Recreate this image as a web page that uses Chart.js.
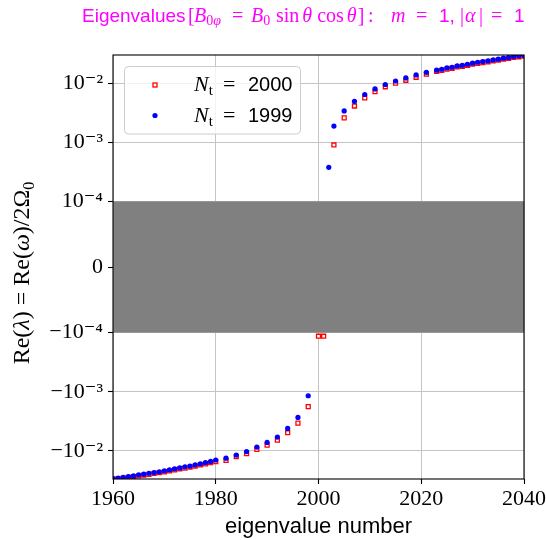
<!DOCTYPE html>
<html><head><meta charset="utf-8">
<script src="https://cdn.jsdelivr.net/npm/chart.js@4.4.0/dist/chart.umd.min.js"></script>
<style>html,body{margin:0;padding:0;background:#fff;}#wrap{width:546px;height:540px;}</style>
</head><body><div id="wrap"><canvas id="c" width="546" height="540"></canvas></div>
<script>
// ---- data ----
const nt2000X = [1960,1961,1962,1963,1964,1965,1966,1967,1968,1969,1970,1971,1972,1973,1974,1975,1976,1977,1978,1979,1980,
  1982,1984,1986,1988,1990,1992,1994,1996,1998,
  2000,2001,
  2003,2005,2007,2009,2011,2013,2015,2017,2019,2021,
  2023,2024,2025,2026,2027,2028,2029,2030,2031,2032,2033,2034,2035,2036,2037,2038,2039,2040];
const nt2000Y = [-3.02e-2,-2.97e-2,-2.90e-2,-2.82e-2,-2.74e-2,-2.66e-2,-2.57e-2,-2.50e-2,-2.42e-2,-2.34e-2,-2.27e-2,-2.18e-2,-2.11e-2,-2.03e-2,-1.96e-2,-1.88e-2,-1.81e-2,-1.73e-2,-1.66e-2,-1.58e-2,-1.52e-2,
  -1.45e-2,-1.26e-2,-1.12e-2,-9.48e-3,-8.00e-3,-6.58e-3,-4.94e-3,-3.39e-3,-1.79e-3,
  -1.15e-4,-1.15e-4,
  9.0e-4,2.58e-3,4.11e-3,5.62e-3,7.21e-3,8.7e-3,1.00e-2,1.12e-2,1.26e-2,1.42e-2,
  1.58e-2,1.65e-2,1.73e-2,1.79e-2,1.88e-2,1.93e-2,2.01e-2,2.10e-2,2.17e-2,2.24e-2,2.30e-2,2.39e-2,2.46e-2,2.55e-2,2.63e-2,2.73e-2,2.80e-2,2.86e-2];
const nt1999X = [1960,1961,1962,1963,1964,1965,1966,1967,1968,1969,1970,1971,1972,1973,1974,1975,1976,1977,1978,1979,1980,
  1982,1984,1986,1988,1990,1992,1994,1996,1998,
  2002,2003,
  2005,2007,2009,2011,2013,2015,2017,2019,2021,
  2023,2024,2025,2026,2027,2028,2029,2030,2031,2032,2033,2034,2035,2036,2037,2038,2039,2040];
const nt1999Y = [-2.95e-2,-2.89e-2,-2.80e-2,-2.73e-2,-2.66e-2,-2.55e-2,-2.49e-2,-2.40e-2,-2.34e-2,-2.26e-2,-2.18e-2,-2.10e-2,-2.02e-2,-1.95e-2,-1.87e-2,-1.81e-2,-1.73e-2,-1.66e-2,-1.58e-2,-1.51e-2,-1.43e-2,
  -1.33e-2,-1.18e-2,-1.03e-2,-8.63e-3,-7.21e-3,-5.85e-3,-4.18e-3,-2.72e-3,-1.17e-3,
  3.76e-4,1.88e-3,
  3.39e-3,4.94e-3,6.43e-3,8.0e-3,9.5e-3,1.09e-2,1.23e-2,1.38e-2,1.53e-2,
  1.66e-2,1.72e-2,1.81e-2,1.86e-2,1.96e-2,2.01e-2,2.09e-2,2.18e-2,2.26e-2,2.33e-2,2.38e-2,2.48e-2,2.55e-2,2.65e-2,2.72e-2,2.83e-2,2.90e-2,2.94e-2];
const xTickValues = [1960,1980,2000,2020,2040];
const yTickValues = [-1e-2,-1e-3,-1e-4,0,1e-4,1e-3,1e-2];
const yTickLabels = ['\u221210\u207B\u00B2','\u221210\u207B\u00B3','\u221210\u207B\u2074','0','10\u207B\u2074','10\u207B\u00B3','10\u207B\u00B2'];
const seriesLabels = ['2000','1999'];
const xLimits = [1960,2040];
const yLimits = [-3e-2,3e-2];
const bandLimits = [-1e-4,1e-4];

// ---- symlog scale ----
const LINTHRESH = 1e-4, LINSCALE = 1/(1-1/10);
function symT(v){const a=Math.abs(v);if(a<=LINTHRESH)return v/LINTHRESH*LINSCALE;return Math.sign(v)*(LINSCALE+Math.log10(a/LINTHRESH));}
function symInv(t){const a=Math.abs(t);if(a<=LINSCALE)return t/LINSCALE*LINTHRESH;return Math.sign(t)*LINTHRESH*Math.pow(10,a-LINSCALE);}
class SymLogScale extends Chart.LinearScale {
  buildTicks(){ return yTickValues.map(v=>({value:v})); }
  configure(){ super.configure(); this._tS=symT(this.min); this._tR=symT(this.max)-this._tS; }
  getPixelForValue(v){ return this.getPixelForDecimal((symT(v)-this._tS)/this._tR); }
  getValueForPixel(p){ return symInv(this._tS+this.getDecimalForPixel(p)*this._tR); }
}
SymLogScale.id='symlog';
SymLogScale.defaults=Chart.LinearScale.defaults;
Chart.register(SymLogScale);

const SERIF='"Liberation Serif", "DejaVu Serif", serif';
const SANS='"Liberation Sans", "DejaVu Sans", sans-serif';
function drawRich(ctx, segs, x, y){
  let cx=x;
  for(const s of segs){
    ctx.font=s.f;
    if(s.x!==undefined) cx=s.x;
    ctx.fillText(s.t,cx,y+(s.dy||0));
    cx+=ctx.measureText(s.t).width+(s.dx||0);
  }
  return cx;
}
function richWidth(ctx,segs){let w=0;for(const s of segs){ctx.font=s.f;w+=ctx.measureText(s.t).width+(s.dx||0);}return w;}

const bandPlugin={id:'band',beforeDatasetsDraw(chart){
  const {ctx,chartArea:a,scales:{y}}=chart;
  const y1=y.getPixelForValue(bandLimits[1]), y0=y.getPixelForValue(bandLimits[0]);
  ctx.save();ctx.fillStyle='#808080';ctx.fillRect(a.left,y1,a.right-a.left,y0-y1);ctx.restore();
}};

const decorPlugin={id:'decor',afterDatasetsDraw(chart){
  const {ctx,chartArea:a}=chart;
  ctx.save();
  // frame
  ctx.strokeStyle='#000';ctx.lineWidth=1.1;
  ctx.strokeRect(a.left,a.top,a.right-a.left,a.bottom-a.top);
  // legend
  const lx=124.5,ly=66.5,lw=176,lh=67.5,r=4;
  ctx.beginPath();
  ctx.moveTo(lx+r,ly);ctx.lineTo(lx+lw-r,ly);ctx.quadraticCurveTo(lx+lw,ly,lx+lw,ly+r);
  ctx.lineTo(lx+lw,ly+lh-r);ctx.quadraticCurveTo(lx+lw,ly+lh,lx+lw-r,ly+lh);
  ctx.lineTo(lx+r,ly+lh);ctx.quadraticCurveTo(lx,ly+lh,lx,ly+lh-r);
  ctx.lineTo(lx,ly+r);ctx.quadraticCurveTo(lx,ly,lx+r,ly);ctx.closePath();
  ctx.fillStyle='rgba(255,255,255,0.8)';ctx.fill();
  ctx.strokeStyle='#cccccc';ctx.lineWidth=1;ctx.stroke();
  // markers
  ctx.fillStyle='#fff';ctx.strokeStyle='#ff0000';ctx.lineWidth=1.3;
  ctx.fillRect(153,83,4,4);ctx.strokeRect(153,83,4,4);
  ctx.fillStyle='#0000ff';ctx.beginPath();ctx.arc(155,115.5,2.6,0,Math.PI*2);ctx.fill();
  ctx.fillStyle='#000';ctx.textBaseline='alphabetic';ctx.textAlign='left';
  const rows=[91,122];
  seriesLabels.forEach((lab,i)=>{
    drawRich(ctx,[
      {t:'N',f:'italic 22px '+SERIF,x:194},
      {t:'t',f:'15px '+SERIF,dy:4},
      {t:'=',f:'22px '+SERIF,x:223},
      {t:lab,f:'20px '+SANS,x:248}
    ],0,rows[i]);
  });
  // title
  ctx.fillStyle='#ff00ff';
  const T=20,S=14;
  drawRich(ctx,[
    {t:'Eigenvalues',f:'19px '+SANS,x:82},
    {t:'[',f:T+'px '+SERIF,x:188},
    {t:'B',f:'italic '+T+'px '+SERIF,x:194},
    {t:'0',f:S+'px '+SERIF,dy:3},
    {t:'\u03C6',f:'italic '+S+'px '+SERIF,dy:3},
    {t:'=',f:T+'px '+SERIF,x:232},
    {t:'B',f:'italic '+T+'px '+SERIF,x:251},
    {t:'0',f:S+'px '+SERIF,dy:3},
    {t:'sin',f:T+'px '+SERIF,x:276,dx:3},
    {t:'\u03B8',f:'italic '+T+'px '+SERIF,dx:5},
    {t:'cos',f:T+'px '+SERIF,dx:3},
    {t:'\u03B8',f:'italic '+T+'px '+SERIF,dx:1},
    {t:']',f:T+'px '+SERIF},
    {t:':',f:T+'px '+SERIF,x:368},
    {t:'m',f:'italic '+T+'px '+SERIF,x:391},
    {t:'=',f:T+'px '+SERIF,x:416},
    {t:'1,',f:'19px '+SANS,x:439},
    {t:'|',f:T+'px '+SERIF,x:460},
    {t:'\u03B1',f:'italic '+T+'px '+SERIF,x:465},
    {t:'|',f:T+'px '+SERIF,x:479},
    {t:'=',f:T+'px '+SERIF,x:491},
    {t:'1',f:'19px '+SANS,x:514}
  ],0,21.5);
  // x label
  ctx.fillStyle='#000';ctx.font='22px '+SANS;ctx.textAlign='center';
  ctx.fillText('eigenvalue number',(a.left+a.right)/2,533);
  // y label
  const F='24px '+SERIF;
  const ysegs=[
    {t:'Re(',f:F},
    {t:'\u03BB',f:'italic '+F},
    {t:')',f:F,dx:6},
    {t:'=',f:F,dx:6},
    {t:'Re(',f:F},
    {t:'\u03C9',f:'italic '+F},
    {t:')/2\u03A9',f:F},
    {t:'0',f:'16px '+SERIF,dy:5}
  ];
  ctx.textAlign='left';
  const w=richWidth(ctx,ysegs);
  ctx.translate(29,273);ctx.rotate(-Math.PI/2);
  drawRich(ctx,ysegs,-w/2,0);
  ctx.restore();
}};

const mk=(X,Y)=>X.map((v,i)=>({x:v,y:Y[i]}));
new Chart(document.getElementById('c'),{
  type:'scatter',
  data:{datasets:[
    {label:'Nt = 2000',data:mk(nt2000X,nt2000Y),pointStyle:'rect',pointRadius:2.8,pointBackgroundColor:'#ffffff',pointBorderColor:'#ff0000',pointBorderWidth:1.3,order:2,clip:0},
    {label:'Nt = 1999',data:mk(nt1999X,nt1999Y),pointStyle:'circle',pointRadius:2.6,pointBackgroundColor:'#0000ff',pointBorderColor:'#0000ff',pointBorderWidth:0,order:1,clip:0}
  ]},
  options:{
    responsive:false,animation:false,
    layout:{padding:{top:55,right:22,left:0,bottom:0}},
    plugins:{legend:{display:false},tooltip:{enabled:false},title:{display:false}},
    scales:{
      x:{type:'linear',min:xLimits[0],max:xLimits[1],
        afterBuildTicks:s=>{s.ticks=xTickValues.map(v=>({value:v}));},
        ticks:{callback:v=>String(v),font:{family:SERIF,size:22},color:'#000',padding:2,maxRotation:0,autoSkip:false},
        grid:{color:'#c4c4c4',lineWidth:1,tickLength:5,tickColor:'#000',tickWidth:1.1},
        border:{display:false},
        afterFit:s=>{s.height=61;s.paddingLeft=0;s.paddingRight=0;}},
      y:{type:'symlog',min:yLimits[0],max:yLimits[1],
        ticks:{callback:(v,i)=>yTickLabels[i],font:{family:SERIF,size:22},color:'#000',padding:5,autoSkip:false},
        grid:{color:'#c4c4c4',lineWidth:1,tickLength:5,tickColor:'#000',tickWidth:1.1},
        border:{display:false},
        afterFit:s=>{s.width=113;s.paddingTop=0;s.paddingBottom=0;}}
    }
  },
  plugins:[bandPlugin,decorPlugin]
});
</script></body></html>
